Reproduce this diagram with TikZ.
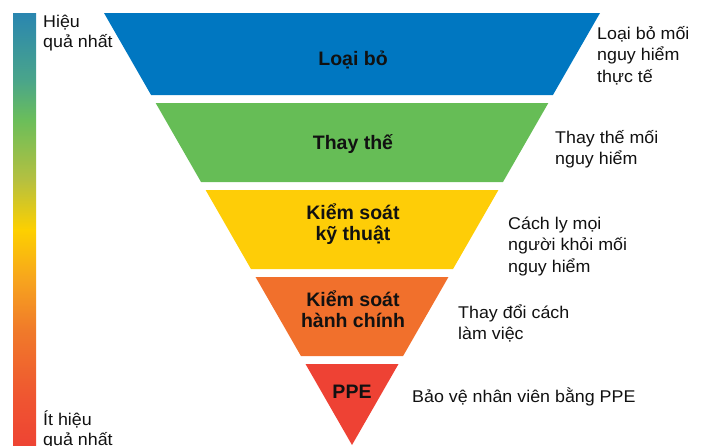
\documentclass[tikz,border=0pt]{standalone}
\usepackage{fontspec}
\setmainfont{Liberation Sans}
\newfontfamily\lblfont[FakeStretch=1.05]{Liberation Sans}
\definecolor{cblue}{RGB}{0,119,193}
\definecolor{cgreen}{RGB}{102,189,86}
\definecolor{cyellow}{RGB}{254,205,7}
\definecolor{corange}{RGB}{241,112,44}
\definecolor{cred}{RGB}{238,66,52}
\definecolor{barA}{RGB}{238,68,51}
\definecolor{barB}{RGB}{239,84,49}
\definecolor{barC}{RGB}{240,122,42}
\definecolor{barD}{RGB}{247,164,30}
\definecolor{barE}{RGB}{253,208,0}
\definecolor{barF}{RGB}{181,192,64}
\definecolor{barG}{RGB}{107,190,90}
\definecolor{barH}{RGB}{74,165,138}
\definecolor{barI}{RGB}{42,134,176}
\definecolor{ink}{RGB}{17,17,17}
\pgfdeclareverticalshading{effbar}{100bp}{color(0bp)=(barA); color(25bp)=(barA); color(30.2bp)=(barB); color(38.3bp)=(barC); color(44.1bp)=(barD); color(49.9bp)=(barE); color(55.7bp)=(barF); color(62.6bp)=(barG); color(67.2bp)=(barH); color(75bp)=(barI); color(100bp)=(barI)}
\newcommand{\xl}[1]{352-0.57407*(445-#1)}
\newcommand{\xr}[1]{352+0.57407*(445-#1)}
\tikzset{
  side/.style={anchor=base west, inner sep=0pt, align=left, text=ink,
    font=\lblfont\fontsize{17}{21.5}\selectfont},
  leftlbl/.style={anchor=base west, inner sep=0pt, align=left, text=ink,
    font=\lblfont\fontsize{17}{20}\selectfont},
  band/.style={anchor=base, inner sep=0pt, align=center, text=ink,
    font=\bfseries\fontsize{19.5}{21.5}\selectfont},
}
\begin{document}
\begin{tikzpicture}[x=1pt,y=-1pt]
\useasboundingbox (0,0) rectangle (711,445);
% gradient bar
\path[shading=effbar] (13,13) rectangle (36,445);
% bands
\fill[cblue] ({\xl{13}},13) -- ({\xr{13}},13) -- ({\xr{95}},95) -- ({\xl{95}},95) -- cycle;
\fill[cgreen] ({\xl{103}},103) -- ({\xr{103}},103) -- ({\xr{182}},182) -- ({\xl{182}},182) -- cycle;
\fill[cyellow] ({\xl{190}},190) -- ({\xr{190}},190) -- ({\xr{269}},269) -- ({\xl{269}},269) -- cycle;
\fill[corange] ({\xl{277}},277) -- ({\xr{277}},277) -- ({\xr{356}},356) -- ({\xl{356}},356) -- cycle;
\fill[cred] ({\xl{364}},364) -- ({\xr{364}},364) -- (352,445) -- cycle;
% band labels (anchor = baseline of last line)
\node[band] (b1) at (353,65) {Loại bỏ};
\node[band] (b2) at (353,149) {Thay thế};
\node[band] (b3) at (353,240.5) {Kiểm soát\\kỹ thuật};
\node[band] (b4) at (353,327.5) {Kiểm soát\\hành chính};
\node[band] (b5) at (352,398) {PPE};
% side labels (anchor = baseline of last line)
\node[side] (s1) at (597,82) {Loại bỏ mối\\nguy hiểm\\thực tế};
\node[side] (s2) at (555,164.5) {Thay thế mối\\nguy hiểm};
\node[side] (s3) at (508,272) {Cách ly mọi\\người khỏi mối\\nguy hiểm};
\node[side] (s4) at (458,339.5) {Thay đổi cách\\làm việc};
\node[side] (s5) at (412,402) {Bảo vệ nhân viên bằng PPE};
% bar labels
\node[leftlbl] (top) at (43,47) {Hiệu\\quả nhất};
\node[leftlbl] (bot) at (43,445) {Ít hiệu\\quả nhất};
\end{tikzpicture}
\end{document}
